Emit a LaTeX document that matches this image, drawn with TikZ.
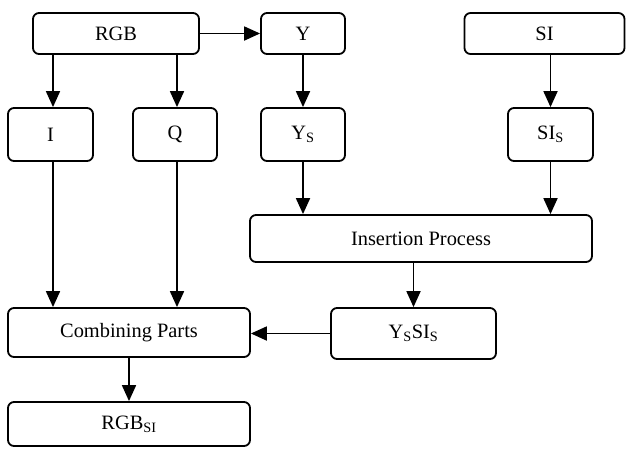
\documentclass[tikz,border=0pt]{standalone}
\usepackage{fontspec}
\setmainfont{Liberation Serif}
\usetikzlibrary{arrows.meta}
\begin{document}
\begin{tikzpicture}[x=1pt,y=-1pt,
  box/.style={draw=black,line width=1.8pt,rounded corners=6pt,inner sep=0pt,
    font=\fontsize{20.4}{24}\selectfont},
  arr/.style={line width=1.8pt,-{Triangle[length=16pt,width=14pt]}}]
\useasboundingbox (0,0) rectangle (626,448);
\node[box,minimum width=166pt,minimum height=41pt] (RGB) at (116,33.5) {RGB};
\node[box,minimum width=84pt,minimum height=41pt] (Y) at (303,33.5) {Y};
\node[box,minimum width=160pt,minimum height=41pt] (SI) at (544.5,33.5) {SI};
\node[box,minimum width=85pt,minimum height=53pt] (I) at (50.5,134.5) {I};
\node[box,minimum width=84pt,minimum height=53pt] (Q) at (175,134.5) {Q};
\node[box,minimum width=84pt,minimum height=53pt] (Ys) at (303,134.5) {Y\textsubscript{S}};
\node[box,minimum width=85pt,minimum height=53pt] (SIs) at (550.5,134.5) {SI\textsubscript{S}};
\node[box,minimum width=342pt,minimum height=47pt] (Ins) at (421,238.5) {Insertion Process};
\node[box,minimum width=242pt,minimum height=49pt] (Comb) at (129,332.5) {Combining Parts};
\node[box,minimum width=165pt,minimum height=51pt] (YsSIs) at (413.5,333.5) {Y\textsubscript{S}SI\textsubscript{S}};
\node[box,minimum width=242pt,minimum height=44pt] (RGBsi) at (129,424) {RGB\textsubscript{SI}};
\draw[arr] (RGB.east) -- (Y.west);
\draw[arr] ([xshift=2.5pt]I.north |- RGB.south) -- ([xshift=2.5pt]I.north);
\draw[arr] ([xshift=2pt]Q.north |- RGB.south) -- ([xshift=2pt]Q.north);
\draw[arr] (Y.south) -- (Ys.north);
\draw[arr] (SIs.north |- SI.south) -- (SIs.north);
\draw[arr] (Ys.south) -- (Ys.south |- Ins.north);
\draw[arr] (SIs.south) -- (SIs.south |- Ins.north);
\draw[arr] ([xshift=2.5pt]I.south) -- ([xshift=2.5pt]I.south |- Comb.north);
\draw[arr] ([xshift=2pt]Q.south) -- ([xshift=2pt]Q.south |- Comb.north);
\draw[arr] (YsSIs.north |- Ins.south) -- (YsSIs.north);
\draw[arr] (YsSIs.west) -- (Comb.east |- YsSIs.west);
\draw[arr] (Comb.south) -- (RGBsi.north);
\end{tikzpicture}
\end{document}
